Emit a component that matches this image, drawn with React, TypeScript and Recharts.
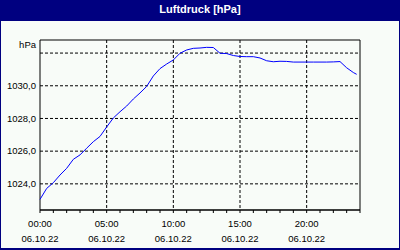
import React from 'react';
import { LineChart, Line, XAxis, YAxis, CartesianGrid, ReferenceArea } from 'recharts';

// hours since 06.10.22 00:00
const hours = [
  0, 0.5, 1, 1.5, 2, 2.5, 3, 3.5, 4, 4.5, 5, 5.5, 6, 6.5, 7, 7.5, 8, 8.5, 9, 9.5,
  10, 10.5, 11, 11.5, 12, 12.5, 13, 13.5, 14, 14.5, 15, 15.5, 16, 16.5, 17, 17.5,
  18, 18.5, 19, 19.5, 20, 20.5, 21, 21.5, 22, 22.5, 23, 23.5, 23.75,
];
const pressure = [
  1023.05, 1023.72, 1024.07, 1024.54, 1024.95, 1025.5, 1025.77, 1026.18, 1026.58, 1026.9,
  1027.48, 1028.03, 1028.41, 1028.76, 1029.19, 1029.56, 1029.96, 1030.6, 1031.05, 1031.33,
  1031.58, 1031.99, 1032.19, 1032.29, 1032.31, 1032.35, 1032.34, 1031.99, 1031.97, 1031.85,
  1031.79, 1031.78, 1031.78, 1031.7, 1031.53, 1031.47, 1031.5, 1031.49, 1031.45, 1031.45,
  1031.45, 1031.45, 1031.45, 1031.45, 1031.46, 1031.48, 1031.1, 1030.81, 1030.7,
];
const hourTicks = [0, 1, 2, 3, 4, 5, 6, 7, 8, 9, 10, 11, 12, 13, 14, 15, 16, 17, 18, 19, 20, 21, 22, 23, 24];
const labelledHours = [0, 5, 10, 15, 20];
const pressureTicks = [1024, 1026, 1028, 1030, 1032];
const dateLabel = '06.10.22';
const unit = 'hPa';
const title = 'Luftdruck [hPa]';

const data = hours.map((h, i) => ({ h, p: pressure[i] }));

const font = '"Liberation Sans", Arial, sans-serif';

const TimeTick = (props: any) => {
  const { x, y, payload } = props;
  if (!labelledHours.includes(payload.value)) return null;
  const hh = String(payload.value).padStart(2, '0') + ':00';
  return (
    <g>
      <text x={x} y={y + 12} textAnchor="middle" fontSize={9.5} fontFamily={font} fill="#000">{hh}</text>
      <text x={x} y={y + 27} textAnchor="middle" fontSize={9.5} fontFamily={font} fill="#000">{dateLabel}</text>
    </g>
  );
};

const PressureTick = (props: any) => {
  const { x, y, payload } = props;
  if (payload.value === 1032) {
    return <text x={x} y={y - 8} dy="0.35em" textAnchor="end" fontSize={9.5} fontFamily={font} fill="#000">{unit}</text>;
  }
  return (
    <text x={x} y={y} dy="0.35em" textAnchor="end" fontSize={9.5} fontFamily={font} fill="#000">
      {payload.value.toFixed(1).replace('.', ',')}
    </text>
  );
};

export default function App() {
  return (
    <div style={{ position: 'absolute', left: 0, top: 0, width: 400, height: 250, background: '#000080', overflow: 'hidden' }}>
      <div style={{ position: 'absolute', left: 1, top: 21, width: 398, height: 227, background: '#f8fcf8' }} />
      <div style={{ position: 'absolute', left: 0, top: 0, width: 400, height: 21, lineHeight: '18px', textAlign: 'center', color: '#fff', fontFamily: font, fontWeight: 'bold', fontSize: 11 }}>
        {title}
      </div>
      <div style={{ position: 'absolute', left: 0, top: 0 }}>
        <LineChart width={400} height={250} data={data} margin={{ top: 40, right: 40, bottom: 0, left: 0 }}>
          <CartesianGrid stroke="#000" strokeDasharray="3 2" verticalValues={[5, 10, 15, 20]} horizontalValues={pressureTicks} />
          <XAxis
            dataKey="h"
            type="number"
            domain={[0, 24]}
            ticks={hourTicks}
            interval={0}
            height={40}
            tickSize={3}
            tickMargin={2}
            stroke="#000"
            tick={<TimeTick />}
          />
          <YAxis
            type="number"
            domain={[1022.4, 1032.8]}
            ticks={pressureTicks}
            interval={0}
            width={40}
            tickLine={false}
            tickSize={0}
            tickMargin={4}
            axisLine={false}
            tick={<PressureTick />}
            allowDataOverflow
          />
          <ReferenceArea x1={0} x2={24} y1={1022.4} y2={1032.8} fill="none" stroke="#000" strokeWidth={1} fillOpacity={0} />
          <Line type="linear" dataKey="p" stroke="#0000ff" strokeWidth={1} dot={false} isAnimationActive={false} />
        </LineChart>
      </div>
    </div>
  );
}
